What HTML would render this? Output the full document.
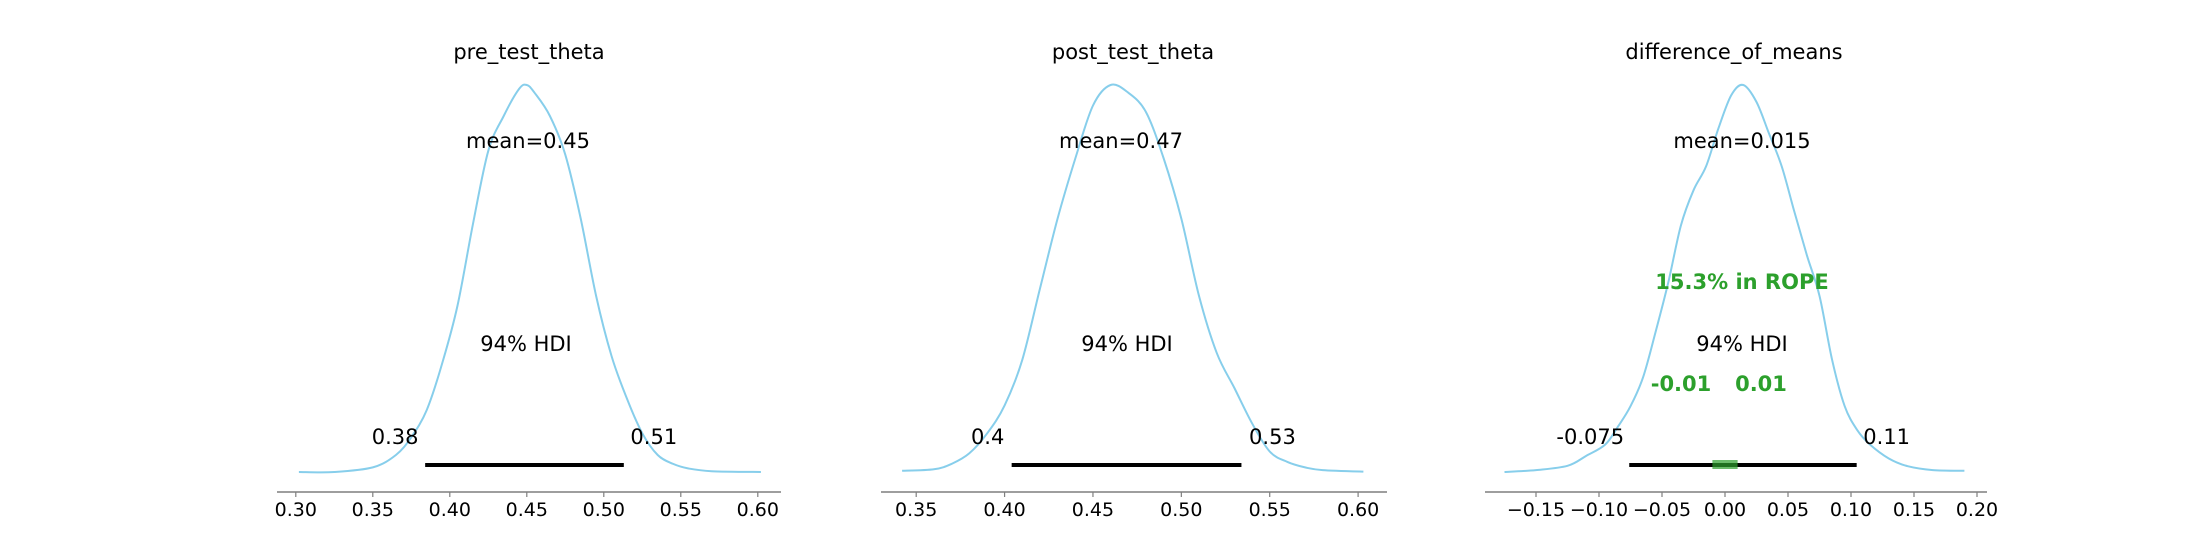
<!DOCTYPE html>
<html><head><meta charset="utf-8"><style>
body{margin:0;background:#fff;}
svg{display:block;font-family:"DejaVu Sans","Liberation Sans",sans-serif;}
</style></head><body>
<svg id="chart" width="2208" height="552" viewBox="0 0 2208 552" xmlns="http://www.w3.org/2000/svg"></svg>
<script>
// Panel 1: pre_test_theta
const p1X = [0.302,0.325,0.35,0.365,0.375,0.385,0.395,0.405,0.415,0.425,0.435,0.445,0.45,0.455,0.465,0.475,0.485,0.495,0.505,0.515,0.525,0.535,0.545,0.555,0.57,0.602];
const p1Y = [0,0,0.012,0.044,0.09,0.16,0.28,0.43,0.64,0.83,0.92,0.99,1,0.98,0.92,0.82,0.655,0.455,0.30,0.19,0.10,0.044,0.021,0.009,0.002,0];
const p1Ticks = ["0.30","0.35","0.40","0.45","0.50","0.55","0.60"];
const p1Hdi = [0.384,0.513];
const p1HdiLabels = ["0.38","0.51"];
// Panel 2: post_test_theta
const p2X = [0.342,0.36,0.37,0.38,0.39,0.40,0.41,0.42,0.43,0.44,0.45,0.46,0.47,0.48,0.49,0.50,0.51,0.52,0.53,0.54,0.55,0.56,0.57,0.58,0.603];
const p2Y = [0.003,0.007,0.021,0.048,0.099,0.172,0.29,0.473,0.655,0.81,0.947,1,0.98,0.93,0.81,0.655,0.455,0.308,0.217,0.126,0.053,0.026,0.012,0.005,0.001];
const p2Ticks = ["0.35","0.40","0.45","0.50","0.55","0.60"];
const p2Hdi = [0.404,0.534];
const p2HdiLabels = ["0.4","0.53"];
// Panel 3: difference_of_means
const p3X = [-0.175,-0.15,-0.125,-0.11,-0.095,-0.085,-0.075,-0.065,-0.055,-0.045,-0.035,-0.025,-0.015,-0.005,0.005,0.0145,0.025,0.035,0.045,0.055,0.065,0.075,0.085,0.095,0.105,0.115,0.13,0.145,0.165,0.19];
const p3Y = [0,0.005,0.016,0.042,0.071,0.117,0.17,0.245,0.363,0.49,0.637,0.728,0.79,0.89,0.974,1,0.956,0.874,0.79,0.673,0.56,0.455,0.29,0.17,0.108,0.071,0.035,0.015,0.005,0.003];
const p3Ticks = ["\u22120.15","\u22120.10","\u22120.05","0.00","0.05","0.10","0.15","0.20"];
const p3Hdi = [-0.076,0.1045];
const p3HdiLabels = ["-0.075","0.11"];
const p3Rope = [-0.01,0.01];
const p3RopeLabels = ["-0.01","0.01"];
const titles = ["pre_test_theta","post_test_theta","difference_of_means"];
const means = ["mean=0.45","mean=0.47","mean=0.015"];

const NS="http://www.w3.org/2000/svg";
const svg=document.getElementById('chart');
function mk(tag,attrs,parent){const e=document.createElementNS(NS,tag);for(const k in attrs)e.setAttribute(k,attrs[k]);(parent||svg).appendChild(e);return e;}
function txt(s,x,y,size,color,weight,parent){const t=mk('text',{x:x,y:y,'font-size':size,fill:color||'#000','text-anchor':'middle','dominant-baseline':'central','font-weight':weight||'normal'},parent);t.textContent=s;return t;}
function smooth(pts){
  let d='M'+pts[0][0].toFixed(1)+','+pts[0][1].toFixed(1);
  for(let i=0;i<pts.length-1;i++){
    const p0=pts[Math.max(0,i-1)],p1=pts[i],p2=pts[i+1],p3=pts[Math.min(pts.length-1,i+2)];
    const c1=[p1[0]+(p2[0]-p0[0])/6,p1[1]+(p2[1]-p0[1])/6];
    const c2=[p2[0]-(p3[0]-p1[0])/6,p2[1]-(p3[1]-p1[1])/6];
    d+=' C'+c1[0].toFixed(1)+','+c1[1].toFixed(1)+' '+c2[0].toFixed(1)+','+c2[1].toFixed(1)+' '+p2[0].toFixed(1)+','+p2[1].toFixed(1);
  }
  return d;
}

const panels=[
 {xs:p1X,ys:p1Y,ticks:p1Ticks,tickVals:p1Ticks.map(Number),hdi:p1Hdi,hl:p1HdiLabels,x0:0.30,px0:295.8,scale:1540,spine:[277,781],mx:528,hx:526,tx:529,lo:-30,hi:30},
 {xs:p2X,ys:p2Y,ticks:p2Ticks,tickVals:p2Ticks.map(Number),hdi:p2Hdi,hl:p2HdiLabels,x0:0.35,px0:916.2,scale:1767.6,spine:[881,1387],mx:1121,hx:1127,tx:1133,lo:-24,hi:31},
 {xs:p3X,ys:p3Y,ticks:p3Ticks,tickVals:[-0.15,-0.10,-0.05,0,0.05,0.10,0.15,0.20],hdi:p3Hdi,hl:p3HdiLabels,x0:0,px0:1725,scale:1260,spine:[1485,1987],mx:1742,hx:1742,tx:1734,rope:true,lo:-39,hi:30}
];
const BASE=472, PEAK=85, SPINE_Y=492;
panels.forEach((p,i)=>{
  const g=mk('g',{});
  
  
  const sx=v=>p.px0+(v-p.x0)*p.scale;
  const sy=d=>BASE-d*(BASE-PEAK);
  const sp=mk('line',{x1:p.spine[0],x2:p.spine[1],y1:SPINE_Y,y2:SPINE_Y,stroke:'#7f7f7f','stroke-width':1.5},g);
  
  
  p.tickVals.forEach((v,j)=>{
    const tk=mk('line',{x1:sx(v),x2:sx(v),y1:SPINE_Y,y2:SPINE_Y+5,stroke:'#7f7f7f','stroke-width':1.2},g);
    
    
    const tl=txt(p.ticks[j],sx(v),510,19,'#000','normal',g);
    
    
  });
  const pts=p.xs.map((x,k)=>[sx(x),sy(p.ys[k])]);
  const c=mk('path',{d:smooth(pts),fill:'none',stroke:'#87ceeb','stroke-width':2,'stroke-linejoin':'round'},g);
  
  
  const hb=mk('line',{x1:sx(p.hdi[0]),x2:sx(p.hdi[1]),y1:465,y2:465,stroke:'#000','stroke-width':4},g);
  
  
  const l1=txt(p.hl[0],sx(p.hdi[0])+p.lo,437,21,'#000','normal',g);
  
  
  const l2=txt(p.hl[1],sx(p.hdi[1])+p.hi,437,21,'#000','normal',g);
  
  
  const ht=txt('94% HDI',p.hx,344,21,'#000','normal',g);
  
  
  const mt=txt(means[i],p.mx,141,21,'#000','normal',g);
  
  
  const tt=txt(titles[i],p.tx,52,21,'#000','normal',g);
  
  
  if(p.rope){
    const r=mk('rect',{x:sx(p3Rope[0]),y:460,width:sx(p3Rope[1])-sx(p3Rope[0]),height:9,fill:'#2ca02c','fill-opacity':0.7},g);
    
    
    const rt=txt('15.3% in ROPE',1742,282,21,'#2ca02c','bold',g);
    
    
    const r1=txt(p3RopeLabels[0],1681,384,21,'#2ca02c','bold',g);
    
    
    const r2=txt(p3RopeLabels[1],1761,384,21,'#2ca02c','bold',g);
    
    
  }
});
</script>
</body></html>
